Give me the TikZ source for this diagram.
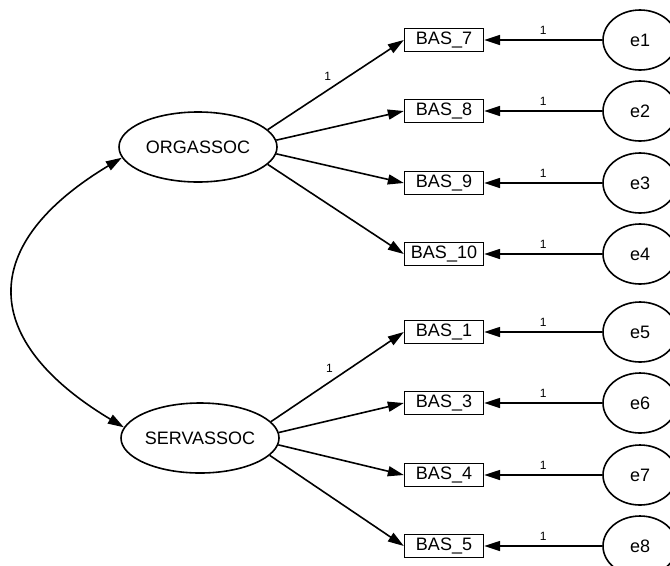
\documentclass[tikz,border=0pt]{standalone}
\usepackage{fontspec}
\setmainfont{Liberation Sans}
\usetikzlibrary{arrows.meta,shapes.geometric}
\begin{document}
\begin{tikzpicture}[x=0.75pt,y=0.75pt,
  every node/.style={font=\fontsize{13.5}{16}\selectfont},
  lat/.style={draw, ellipse, line width=1.2pt, minimum width=118.5pt, minimum height=52.5pt, inner sep=0pt},
  obs/.style={draw, rectangle, line width=1pt, minimum width=59.25pt, minimum height=17.25pt, inner sep=0pt},
  err/.style={draw, ellipse, line width=1.2pt, minimum width=55.5pt, minimum height=45pt, inner sep=0pt},
  path/.style={line width=1.2pt, -{Triangle[length=12pt,width=7.5pt]}},
  cov/.style={line width=1.2pt, {Triangle[length=12pt,width=7.5pt]}-{Triangle[length=12pt,width=7.5pt]}},
  lbl/.style={font=\fontsize{9}{10}\selectfont, inner sep=1pt}]
\useasboundingbox (0,0) rectangle (670,-565);
\clip (0,0) rectangle (670,-565);

\node[lat] (org) at (198,-147) {ORGASSOC};
\node[lat] (serv) at (200,-438) {SERVASSOC};

\node[obs] (b7) at (444,-40) {BAS\_7};
\node[obs] (b8) at (444,-111) {BAS\_8};
\node[obs] (b9) at (444,-183) {BAS\_9};
\node[obs] (b10) at (444,-254) {BAS\_10};
\node[obs] (b1) at (444,-332) {BAS\_1};
\node[obs] (b3) at (444,-403) {BAS\_3};
\node[obs] (b4) at (444,-475) {BAS\_4};
\node[obs] (b5) at (444,-546) {BAS\_5};

\node[err] (e1) at (640,-40) {e1};
\node[err] (e2) at (640,-111) {e2};
\node[err] (e3) at (640,-183) {e3};
\node[err] (e4) at (640,-254) {e4};
\node[err] (e5) at (640,-332) {e5};
\node[err] (e6) at (640,-403) {e6};
\node[err] (e7) at (640,-475) {e7};
\node[err] (e8) at (640,-546) {e8};

\draw[path] (org.14) -- (b7.west) node[lbl,pos=0.44,above=6pt] {1};
\draw[path] (org.5) -- (b8.west);
\draw[path] (org.-5) -- (b9.west);
\draw[path] (org.-14) -- (b10.west);

\draw[path] (serv.13) -- (b1.west) node[lbl,pos=0.44,above=6pt] {1};
\draw[path] (serv.4) -- (b3.west);
\draw[path] (serv.-5) -- (b4.west);
\draw[path] (serv.-14) -- (b5.west);

\foreach \e/\b in {e1/b7,e2/b8,e3/b9,e4/b10,e5/b1,e6/b3,e7/b4,e8/b5}{
  \draw[path] (\e.west) -- (\b.east) node[lbl,midway,above=2.5pt] {1};
}

\draw[cov] (org.188) to[out=211,in=149,looseness=1.6] (serv.172);
\end{tikzpicture}
\end{document}
